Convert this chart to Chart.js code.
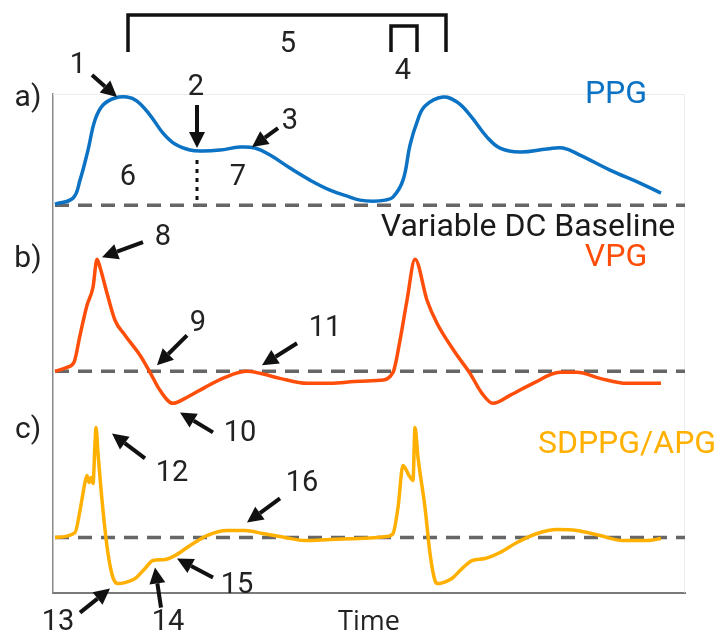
<!DOCTYPE html>
<html>
<head>
<meta charset="utf-8">
<script src="https://cdn.jsdelivr.net/npm/chart.js@4"></script>
<style>
  html, body { margin: 0; padding: 0; background: #fff; }
</style>
</head>
<body>
<canvas id="chart" width="721" height="640"></canvas>
<script>
// time in samples, amplitude in arbitrary units (traces stacked with their own baselines)
const ppgTime = [2, 20, 27, 35, 42, 50, 62, 74, 84, 97, 110, 122, 137, 150, 167, 187, 202, 217, 237, 257, 277, 297, 307, 320, 332, 340, 350, 357, 364, 372, 390, 404, 417, 434, 447, 467, 494, 510, 527, 557, 587, 608];
const ppgValues = [388, 394, 412, 442, 472, 487, 494, 495, 491, 477, 459, 448, 442, 441, 442, 445, 444, 437, 424, 412, 402, 395, 392, 391, 392, 395, 412, 447, 470, 486, 495, 490, 477, 455, 444, 440, 443, 444, 437, 422, 409, 399];

const vpgTime = [2, 14, 21, 27, 34, 40, 44, 47, 54, 62, 72, 87, 97, 107, 120, 132, 152, 172, 194, 207, 227, 254, 277, 307, 327, 340, 347, 354, 362, 374, 384, 402, 417, 429, 440, 457, 480, 507, 524, 547, 574, 608];
const vpgValues = [221, 225, 230, 257, 287, 305, 333, 325, 299, 272, 257, 237, 220, 202, 189, 194, 205, 215, 221, 219, 214, 209, 209, 211, 212, 220, 252, 292, 333, 292, 269, 240, 219, 199, 189, 197, 209, 220, 220, 214, 209, 209];

const apgTime = [2, 22, 27, 32, 34, 36, 38, 40, 42, 43, 45, 50, 55, 60, 65, 72, 82, 92, 100, 112, 122, 137, 154, 174, 192, 210, 232, 252, 277, 307, 334, 340, 345, 350, 356, 360, 362, 365, 372, 377, 382, 385, 395, 400, 410, 419, 432, 447, 464, 484, 504, 524, 547, 570, 594, 608];
const apgValues = [55, 60, 82, 110, 117, 110, 115, 109, 149, 165, 139, 82, 39, 15, 9, 10, 14, 24, 32, 33, 37, 47, 57, 62, 62, 59, 55, 52, 53, 54, 56, 59, 85, 127, 117, 112, 165, 135, 85, 39, 12, 9, 12, 15, 25, 32, 34, 40, 50, 59, 63, 62, 57, 52, 52, 54];

// DC baselines of each trace
const baselineNames = ['PPG baseline', 'VPG baseline', 'APG baseline'];
const baselineLevels = [387, 221, 55];
const baselineSpan = [2, 632];

const seriesNames = ['PPG', 'VPG', 'SDPPG/APG'];
const seriesColors = ['#0B72C4', '#FF4D0A', '#FFB000'];

// numbered callouts: label position, arrow tail, arrow head
const callouts = [
  { n: '1',  at: [25, 526],  from: [39, 517],  to: [64, 495] },
  { n: '2',  at: [143, 504], from: [144, 487], to: [144, 444] },
  { n: '3',  at: [237, 470], from: [225, 464], to: [199, 445] },
  { n: '8',  at: [110, 354], from: [90, 350],  to: [49, 335] },
  { n: '9',  at: [145, 269], from: [134, 257], to: [104, 227] },
  { n: '10', at: [187, 159], from: [160, 160], to: [127, 180] },
  { n: '11', at: [272, 264], from: [244, 249], to: [209, 227] },
  { n: '12', at: [119, 119], from: [92, 134],  to: [59, 159] },
  { n: '13', at: [5, -30],   from: [27, -20],  to: [57, 4] },
  { n: '14', at: [115, -30], from: [108, -15], to: [102, 25] },
  { n: '15', at: [184, 7],   from: [160, 15],  to: [124, 34] },
  { n: '16', at: [249, 109], from: [227, 94],  to: [194, 70] }
];
const areaLabels = [{ n: '6', at: [75, 414] }, { n: '7', at: [185, 414] }];
const dicroticLine = [[144, 432], [144, 388]];
// brackets: [x start, x end, y of ends, y of top], label
const brackets = [
  { span: [75, 393, 540, 577], n: '5', at: [235, 547] },
  { span: [338, 364, 540, 566], n: '4', at: [350, 520] }
];
const panelLabels = [{ t: 'a)', at: [-25, 494] }, { t: 'b)', at: [-25, 333] }, { t: 'c)', at: [-25, 162] }];
const traceLabels = [
  { t: 'PPG', at: [563, 497], color: seriesColors[0] },
  { t: 'Variable DC Baseline', at: [475, 364], color: '#1a1a1a' },
  { t: 'VPG', at: [563, 334], color: seriesColors[1] },
  { t: 'SDPPG/APG', at: [574, 147], color: seriesColors[2] }
];

const toPoints = (xs, ys) => xs.map((v, i) => ({ x: v, y: ys[i] }));

const datasets = baselineLevels.map((lvl, i) => ({
  label: baselineNames[i],
  data: [{ x: baselineSpan[0], y: lvl }, { x: baselineSpan[1], y: lvl }],
  borderColor: '#666666',
  borderWidth: 3.5,
  borderDash: [14, 9],
  pointRadius: 0,
  order: 2
}));
datasets.push(
  { label: seriesNames[0], data: toPoints(ppgTime, ppgValues), borderColor: seriesColors[0], borderWidth: 3.5, pointRadius: 0, tension: 0.4, order: 1 },
  { label: seriesNames[1], data: toPoints(vpgTime, vpgValues), borderColor: seriesColors[1], borderWidth: 3.5, pointRadius: 0, cubicInterpolationMode: 'monotone', order: 1 },
  { label: seriesNames[2], data: toPoints(apgTime, apgValues), borderColor: seriesColors[2], borderWidth: 3.5, pointRadius: 0, cubicInterpolationMode: 'monotone', order: 1 }
);

const annotations = {
  id: 'annotations',
  beforeDatasetsDraw(chart) {
    const { ctx, chartArea: a } = chart;
    ctx.save();
    ctx.strokeStyle = '#ececec';
    ctx.lineWidth = 1;
    ctx.beginPath();
    ctx.moveTo(a.left, a.top + 0.5);
    ctx.lineTo(a.right - 0.5, a.top + 0.5);
    ctx.lineTo(a.right - 0.5, a.bottom);
    ctx.stroke();
    ctx.restore();
  },
  afterDatasetsDraw(chart) {
    const { ctx, scales: { x, y } } = chart;
    const X = v => x.getPixelForValue(v);
    const Y = v => y.getPixelForValue(v);
    ctx.save();

    const text = (t, p, font, color) => {
      ctx.font = font;
      ctx.fillStyle = color;
      ctx.textAlign = 'center';
      ctx.textBaseline = 'middle';
      ctx.fillText(t, X(p[0]), Y(p[1]));
    };

    const arrow = (from, to) => {
      const x1 = X(from[0]), y1 = Y(from[1]), x2 = X(to[0]), y2 = Y(to[1]);
      const ang = Math.atan2(y2 - y1, x2 - x1);
      const head = 16, half = 8;
      const bx = x2 - head * Math.cos(ang), by = y2 - head * Math.sin(ang);
      ctx.strokeStyle = '#111';
      ctx.fillStyle = '#111';
      ctx.lineWidth = 4;
      ctx.beginPath();
      ctx.moveTo(x1, y1);
      ctx.lineTo(bx, by);
      ctx.stroke();
      ctx.beginPath();
      ctx.moveTo(x2, y2);
      ctx.lineTo(bx + half * Math.sin(ang), by - half * Math.cos(ang));
      ctx.lineTo(bx - half * Math.sin(ang), by + half * Math.cos(ang));
      ctx.closePath();
      ctx.fill();
    };

    // dicrotic notch marker
    ctx.strokeStyle = '#111';
    ctx.lineWidth = 3;
    ctx.setLineDash([4, 5]);
    ctx.beginPath();
    ctx.moveTo(X(dicroticLine[0][0]), Y(dicroticLine[0][1]));
    ctx.lineTo(X(dicroticLine[1][0]), Y(dicroticLine[1][1]));
    ctx.stroke();
    ctx.setLineDash([]);

    // period / width brackets
    brackets.forEach(b => {
      const [xa, xb, yEnd, yTop] = b.span;
      ctx.strokeStyle = '#111';
      ctx.lineWidth = 3.5;
      ctx.lineJoin = 'miter';
      ctx.beginPath();
      ctx.moveTo(X(xa), Y(yEnd));
      ctx.lineTo(X(xa), Y(yTop));
      ctx.lineTo(X(xb), Y(yTop));
      ctx.lineTo(X(xb), Y(yEnd));
      ctx.stroke();
      text(b.n, b.at, '29px Roboto', '#222');
    });

    callouts.forEach(c => {
      arrow(c.from, c.to);
      text(c.n, c.at, '29px Roboto', '#222');
    });
    areaLabels.forEach(c => text(c.n, c.at, '29px Roboto', '#222'));
    panelLabels.forEach(p => text(p.t, p.at, '30px Roboto', '#222'));
    traceLabels.forEach(l => text(l.t, l.at, '32px Roboto', l.color));

    ctx.restore();
  }
};

new Chart(document.getElementById('chart'), {
  type: 'line',
  data: { datasets },
  options: {
    responsive: false,
    animation: false,
    layout: { padding: { left: 53, right: 36, top: 94, bottom: 0 } },
    plugins: { legend: { display: false }, tooltip: { enabled: false } },
    scales: {
      x: {
        type: 'linear', min: 0, max: 632,
        grid: { display: false, drawTicks: false },
        ticks: { display: false },
        border: { display: true, color: '#7a7a7a', width: 2 },
        title: { display: true, text: 'Time', color: '#222', font: { family: 'Open Sans', size: 27 }, padding: { top: 14, bottom: 1 } }
      },
      y: {
        min: 0, max: 498,
        grid: { display: false, drawTicks: false },
        ticks: { display: false },
        border: { display: true, color: '#8a8a8a', width: 1.5 }
      }
    }
  },
  plugins: [annotations]
});
</script>
</body>
</html>
